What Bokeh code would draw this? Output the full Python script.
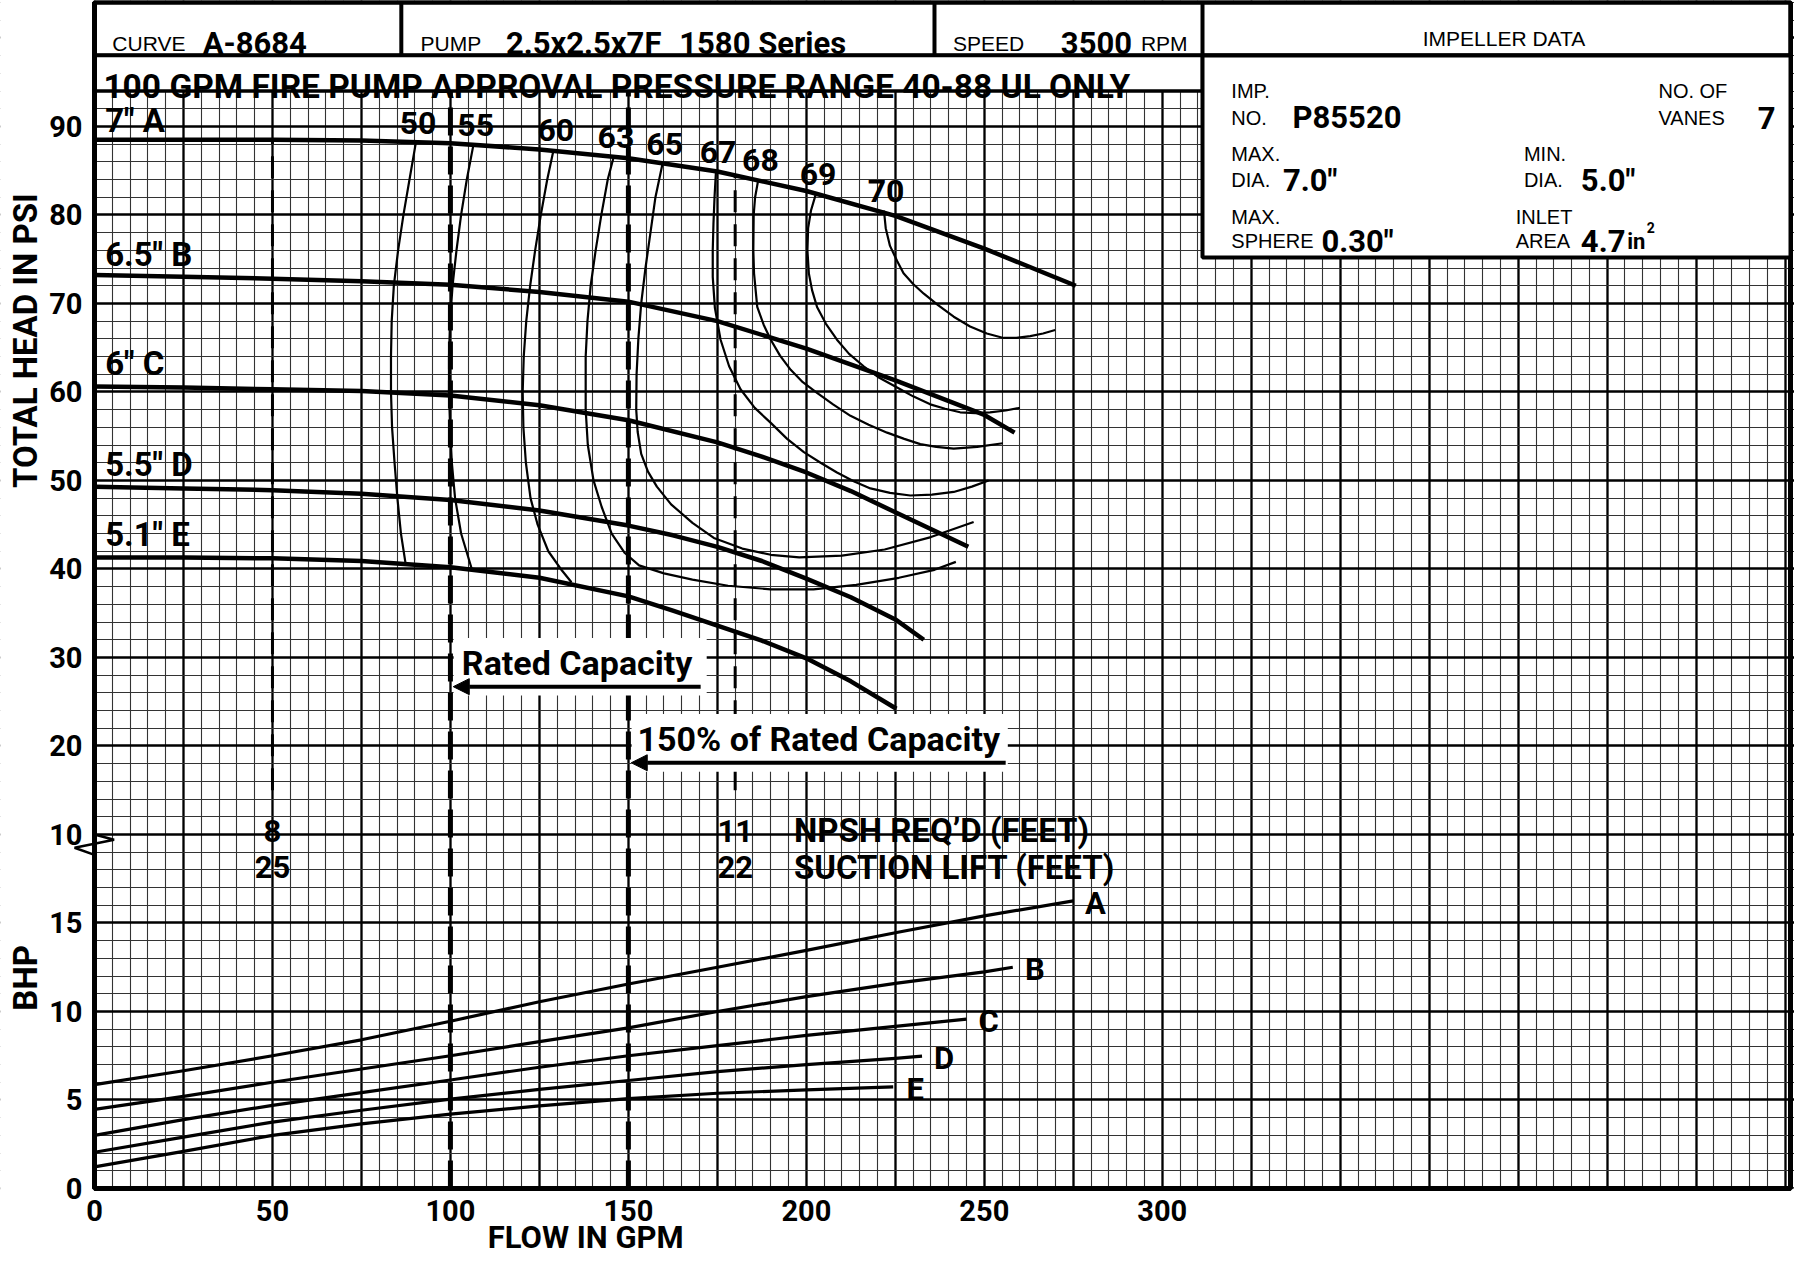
import numpy as np
from bokeh.plotting import figure
from bokeh.models import Range1d, FixedTicker, Arrow, NormalHead
from bokeh.core.properties import value
from bokeh.embed import file_html
from bokeh.resources import INLINE

BOLDF = "Roboto"
SANS = "Liberation Sans"

# ---------------- data ----------------
flow_ticks = [0, 50, 100, 150, 200, 250, 300]
head_ticks = [10, 20, 30, 40, 50, 60, 70, 80, 90]
bhp_ticks = [0, 5, 10, 15]

# head-capacity curves (GPM, PSI)
diam_labels = ['7" A', '6.5" B', '6" C', '5.5" D', '5.1" E']
flow_A = [0, 25, 50, 75, 100, 125, 150, 175, 200, 225, 250, 275.7]
head_A = [88.5, 88.5, 88.5, 88.4, 88.1, 87.4, 86.4, 84.9, 82.7, 79.9, 76.2, 72.0]
flow_B = [0, 25, 50, 75, 100, 125, 150, 175, 200, 225, 250, 258.5]
head_B = [73.2, 73.0, 72.8, 72.5, 72.1, 71.3, 70.2, 68.0, 64.9, 61.3, 57.4, 55.4]
flow_C = [0, 25, 50, 75, 100, 125, 150, 175, 187.5, 200, 212.5, 225, 245.5]
head_C = [60.6, 60.5, 60.3, 60.1, 59.6, 58.5, 56.8, 54.3, 52.7, 50.9, 48.8, 46.4, 42.5]
flow_D = [0, 25, 50, 75, 100, 125, 150, 162.5, 175, 187.5, 200, 212.5, 225, 233]
head_D = [49.3, 49.1, 48.9, 48.5, 47.8, 46.6, 44.9, 43.8, 42.5, 40.9, 38.9, 36.8, 34.3, 32.0]
flow_E = [0, 25, 50, 75, 100, 125, 150, 162.5, 175, 187.5, 200, 212.5, 225.3]
head_E = [41.3, 41.3, 41.2, 40.9, 40.2, 39.0, 36.9, 35.3, 33.6, 31.9, 29.9, 27.3, 24.2]

# efficiency contours (%)
eff_levels = [50, 55, 60, 63, 65, 67, 68, 69, 70]
eff50_flow = [90.3, 88.5, 86.8, 85.3, 84.1, 83.5, 83.3, 83.3, 83.6, 84.3, 85.1, 86.1, 87.4]
eff50_head = [88.2, 84, 80, 76, 72, 68, 64, 60, 56, 52, 48, 44, 40.6]
eff55_flow = [106.5, 104.6, 103.0, 101.7, 100.6, 99.9, 99.6, 99.6, 99.9, 100.4, 101.3, 103.0, 106.0]
eff55_head = [88.0, 84, 80, 76, 72, 68, 64, 60, 56, 52, 48, 44, 40.0]
eff60_flow = [129.0, 127.2, 125.4, 123.8, 122.4, 121.3, 120.6, 120.3, 120.5, 121.2, 122.5, 124.5, 127.5, 131.0, 134.0]
eff60_head = [87.4, 84, 80, 76, 72, 68, 64, 60, 56, 52, 48, 45, 42, 40, 38.5]
eff63_flow = [145.9, 144.2, 142.4, 140.8, 139.4, 138.5, 138.0, 138.0, 138.6, 140.2, 142.5, 145.3, 149, 153, 160,
              168, 178, 190, 202, 214, 226, 236, 242]
eff63_head = [86.6, 84, 80, 76, 72, 68, 64, 58, 54, 50, 47, 44, 41.8, 40.4, 39.5,
              38.8, 38.1, 37.7, 37.7, 38.2, 39.0, 39.9, 40.8]
eff65_flow = [159.6, 157.6, 156.2, 154.8, 153.6, 152.8, 152.3, 152.2, 152.6, 153.6, 155.5, 158, 162, 168, 174,
              182, 190, 198, 210, 222, 235, 247]
eff65_head = [85.8, 82, 78, 74, 70, 66, 62, 58, 55.5, 53, 51, 49.3, 47.3, 45.2, 43.5,
              42.3, 41.6, 41.3, 41.5, 42.2, 43.6, 45.3]
eff67_flow = [174.6, 174.2, 173.9, 173.7, 173.7, 174.3, 175.9, 178.3, 181.5, 185.5, 190, 194.6, 199.3, 204,
              208.6, 213.3, 218, 223.5, 229.2, 235.3, 241.4, 246.5, 251.2]
eff67_head = [84.9, 82, 79, 76, 73, 69.5, 65.9, 62.9, 60.3, 58.2, 56.5, 54.7, 53.2, 52,
              50.9, 49.9, 49.1, 48.6, 48.3, 48.4, 48.7, 49.3, 50.0]
eff68_flow = [186.5, 185.6, 185.2, 185.1, 185.3, 186.2, 188, 190, 192.6, 195.6, 199, 203, 207.5, 212.4, 217.5,
              222.7, 227.5, 232, 236.5, 241.4, 248, 255.2]
eff68_head = [84, 82, 80, 76, 73.4, 69.6, 67.6, 65.9, 64.1, 62.5, 61.1, 59.9, 58.6, 57.3, 56.3,
              55.4, 54.7, 54.1, 53.8, 53.6, 53.8, 54.2]
eff69_flow = [202.7, 201.3, 200.5, 200.3, 200.7, 201.6, 203, 205.5, 208.6, 212, 216.1, 220.5, 225.5, 230, 234.8,
              239, 243.2, 247.5, 251.6, 256, 260]
eff69_head = [82.4, 80.5, 78.5, 76, 73.4, 71.5, 69.6, 67.7, 65.9, 64.3, 62.9, 61.6, 60.5, 59.5, 58.6,
              58.1, 57.7, 57.6, 57.7, 57.9, 58.2]
eff70_flow = [221.8, 222.3, 223.5, 225.5, 227.3, 230, 233, 237, 241.4, 246, 250.7, 255.4, 259, 262.9, 266.5, 269.9]
eff70_head = [80.5, 78.5, 76.5, 74.8, 73.4, 72.2, 71.1, 69.8, 68.5, 67.4, 66.6, 66.1, 66.1, 66.3, 66.6, 67.0]

# brake horsepower curves
bhp_names = ["A", "B", "C", "D", "E"]
bhp_flow_A = [0, 25, 50, 75, 100, 125, 150, 175, 200, 225, 250, 275]
bhp_A = [5.87, 6.65, 7.5, 8.4, 9.45, 10.55, 11.55, 12.5, 13.45, 14.45, 15.4, 16.25]
bhp_flow_B = [0, 25, 50, 75, 100, 125, 150, 175, 200, 225, 250, 258]
bhp_B = [4.47, 5.2, 6.0, 6.75, 7.5, 8.3, 9.07, 10.0, 10.84, 11.59, 12.24, 12.5]
bhp_flow_C = [0, 25, 50, 75, 100, 125, 150, 175, 200, 225, 245]
bhp_C = [3.0, 3.89, 4.7, 5.42, 6.13, 6.85, 7.5, 8.07, 8.65, 9.16, 9.57]
bhp_flow_D = [0, 25, 50, 75, 100, 125, 150, 175, 200, 225, 232.5]
bhp_D = [2.05, 2.9, 3.75, 4.42, 5.05, 5.6, 6.1, 6.6, 7.0, 7.35, 7.48]
bhp_flow_E = [0, 25, 50, 75, 100, 125, 150, 175, 200, 224.4]
bhp_E = [1.22, 2.1, 3.0, 3.65, 4.2, 4.67, 5.08, 5.38, 5.57, 5.74]

# NPSH data
npsh_flow = [50, 180]
npsh_req = [8, 11]
suction_lift = [25, 22]

rated_flow = 100
overload_flow = 150

# ---------------- figure ----------------
W, H = 1794, 1258
X_MAX = 476.5
Y_MIN, Y_MAX = -30, 104          # psi axis; BHP 0 sits at -30, 2 psi per BHP
LEFT_PX, RIGHT_PX, TOP_PX, BOTTOM_PX = 94, 4, 2, 70
sx = (W - LEFT_PX - RIGHT_PX) / X_MAX
sy = (H - TOP_PX - BOTTOM_PX) / (Y_MAX - Y_MIN)
XR = (-LEFT_PX / sx, X_MAX + RIGHT_PX / sx)
YR = (Y_MIN - BOTTOM_PX / sy, Y_MAX + TOP_PX / sy)

p = figure(width=W, height=H, x_range=Range1d(*XR), y_range=Range1d(*YR),
           output_backend="svg", toolbar_location=None,
           min_border_left=0, min_border_right=0, min_border_top=0, min_border_bottom=0)
p.extra_y_ranges = {"bhp": Range1d((YR[0] - Y_MIN) / 2.0, (YR[1] - Y_MIN) / 2.0)}
p.background_fill_color = "white"
p.border_fill_color = "white"
p.outline_line_color = None

xg = p.xgrid[0]
yg = p.ygrid[0]
xg.ticker = FixedTicker(ticks=list(range(0, 477, 25)), minor_ticks=list(range(0, 477, 5)))
yg.ticker = FixedTicker(ticks=list(range(-30, 105, 10)), minor_ticks=list(range(-30, 105, 2)))
for g in (xg, yg):
    g.grid_line_color = "black"
    g.grid_line_width = 2.3
    g.grid_line_alpha = 1
    g.minor_grid_line_color = "#333333"
    g.minor_grid_line_width = 1.1

xa = p.xaxis[0]
xa.ticker = FixedTicker(ticks=flow_ticks)
xa.fixed_location = Y_MIN
xa.bounds = (0, X_MAX)
ya = p.yaxis[0]
bhp_pos = [Y_MIN + 2 * b for b in bhp_ticks]
ya.ticker = FixedTicker(ticks=bhp_pos + head_ticks)
ya.major_label_overrides = {pos: str(b) for pos, b in zip(bhp_pos, bhp_ticks)}
ya.fixed_location = 0
ya.bounds = (Y_MIN, Y_MAX)
for ax in (xa, ya):
    ax.major_tick_line_color = None
    ax.minor_tick_line_color = None
    ax.axis_line_width = 5
    ax.major_label_text_font = BOLDF
    ax.major_label_text_font_style = "bold"
    ax.major_label_text_font_size = "29px"
    ax.major_label_text_color = "black"
xa.major_label_standoff = 5
ya.major_label_standoff = 6
ya.major_label_text_baseline = "bottom"


def txt(x, y, s, size, font=BOLDF, bold=True, align="left", baseline="middle", yr="default", angle=0.0):
    p.text(x=[x], y=[y], text=[s], text_font=value(font), text_font_style="bold" if bold else "normal",
           text_font_size=size, text_align=align, text_baseline=baseline, text_color="black",
           y_range_name=yr, angle=angle)


# white margins hide the grid outside the chart paper
p.quad(left=[XR[0] - 5, XR[0] - 5], right=[0, XR[1] + 5], bottom=[YR[0] - 5, YR[0] - 5], top=[YR[1] + 5, Y_MIN],
       fill_color="white", line_color=None)

# ---- reference dashed lines ----
p.segment(x0=[rated_flow, overload_flow], y0=[Y_MIN] * 2, x1=[rated_flow, overload_flow], y1=[Y_MAX] * 2,
          line_color="black", line_width=5, line_dash="28 11")
npsh_top = [float(np.interp(f, flow_A, head_A)) for f in npsh_flow]
p.segment(x0=npsh_flow, y0=[15.0] * len(npsh_flow), x1=npsh_flow, y1=npsh_top,
          line_color="black", line_width=3, line_dash="22 12")

# ---- head curves ----
for fx, hy in [(flow_A, head_A), (flow_B, head_B), (flow_C, head_C), (flow_D, head_D), (flow_E, head_E)]:
    p.line(fx, hy, line_color="black", line_width=4.5, line_join="round")

# ---- efficiency contours ----
eff_curves = [(eff50_flow, eff50_head), (eff55_flow, eff55_head), (eff60_flow, eff60_head),
              (eff63_flow, eff63_head), (eff65_flow, eff65_head), (eff67_flow, eff67_head),
              (eff68_flow, eff68_head), (eff69_flow, eff69_head), (eff70_flow, eff70_head)]
for fx, hy in eff_curves:
    p.line(fx, hy, line_color="black", line_width=2.2, line_join="round")
for lvl, (fx, hy) in zip(eff_levels, eff_curves):
    txt(fx[0] + 0.6, hy[0] + 2.2, str(lvl), "32px", align="center")

# ---- BHP curves ----
bhp_curves = [(bhp_flow_A, bhp_A), (bhp_flow_B, bhp_B), (bhp_flow_C, bhp_C), (bhp_flow_D, bhp_D), (bhp_flow_E, bhp_E)]
for name, (fx, by) in zip(bhp_names, bhp_curves):
    p.line(fx, by, line_color="black", line_width=3.2, line_join="round", y_range_name="bhp")
    txt(fx[-1] + 6.2, by[-1] - 0.15, name, "31px", align="center", yr="bhp")

# ---- diameter labels ----
diam_label_y = [90.7, 75.5, 63.2, 51.8, 43.9]
for s, yy in zip(diam_labels, diam_label_y):
    txt(3.0, yy, s, "33px")

# ---- NPSH text ----
for f, n, s in zip(npsh_flow, npsh_req, suction_lift):
    txt(f, 10.4, str(n), "31px", align="center")
    txt(f, 6.3, str(s), "31px", align="center")
txt(196.5, 10.4, "NPSH REQ’D (FEET)", "33px")
txt(196.5, 6.3, "SUCTION LIFT (FEET)", "33px")

# ---- rated capacity boxes ----
p.quad(left=[rated_flow + 0.9, overload_flow + 0.9], right=[172, 256.6], bottom=[25.7, 17.1], top=[32.2, 23.6],
       fill_color="white", line_color=None)
txt(135.6, 29.4, "Rated Capacity", "34px", align="center")
txt(203.5, 20.8, "150% of Rated Capacity", "34px", align="center")
p.add_layout(Arrow(end=NormalHead(size=16, fill_color="black", line_color="black", line_width=1),
                   x_start=170.3, y_start=26.7, x_end=rated_flow + 0.8, y_end=26.7,
                   line_color="black", line_width=4))
p.add_layout(Arrow(end=NormalHead(size=16, fill_color="black", line_color="black", line_width=1),
                   x_start=256, y_start=18.1, x_end=overload_flow + 0.8, y_end=18.1,
                   line_color="black", line_width=4))

# ---- axis break mark ----
p.line(x=[0, 5.5, -5.6, 0], y=[10, 9.4, 8.5, 7.7], line_color="black", line_width=2.5)

# ---- chart border ----
p.quad(left=[0], right=[X_MAX], bottom=[Y_MIN], top=[Y_MAX], fill_color=None, line_color="black", line_width=5)

# ---- header ----
p.quad(left=[0], right=[X_MAX], bottom=[98], top=[Y_MAX], fill_color="white", line_color="black", line_width=4.5)
p.quad(left=[0], right=[311.3], bottom=[94], top=[98], fill_color="white", line_color="black", line_width=3.5)
p.quad(left=[311.3], right=[X_MAX], bottom=[75.2], top=[98], fill_color="white", line_color="black", line_width=4)
p.segment(x0=[86.2, 236, 311.3], y0=[98] * 3, x1=[86.2, 236, 311.3], y1=[Y_MAX] * 3,
          line_color="black", line_width=4)

txt(5, 99.4, "CURVE", "21px", font=SANS, bold=False, baseline="alphabetic")
txt(30.4, 99.4, "A-8684", "31px", baseline="alphabetic")
txt(91.6, 99.4, "PUMP", "21px", font=SANS, bold=False, baseline="alphabetic")
txt(115.6, 99.4, "2.5x2.5x7F", "31px", baseline="alphabetic")
txt(164.3, 99.4, "1580 Series", "31px", baseline="alphabetic")
txt(241.2, 99.4, "SPEED", "21px", font=SANS, bold=False, baseline="alphabetic")
txt(271.5, 99.4, "3500", "31px", baseline="alphabetic")
txt(294, 99.4, "RPM", "21px", font=SANS, bold=False, baseline="alphabetic")
txt(396, 99.9, "IMPELLER DATA", "21px", font=SANS, bold=False, align="center", baseline="alphabetic")
txt(2.5, 94.55, "100 GPM FIRE PUMP APPROVAL PRESSURE RANGE 40-88 UL ONLY", "33.5px", baseline="alphabetic")

# impeller data box
txt(319.4, 94.0, "IMP.", "20px", font=SANS, bold=False, baseline="alphabetic")
txt(319.4, 91.0, "NO.", "20px", font=SANS, bold=False, baseline="alphabetic")
txt(336.6, 91.0, "P85520", "31px", baseline="alphabetic")
txt(439.4, 94.0, "NO. OF", "20px", font=SANS, bold=False, baseline="alphabetic")
txt(439.4, 91.0, "VANES", "20px", font=SANS, bold=False, baseline="alphabetic")
txt(467.3, 91.0, "7", "31px", baseline="alphabetic")
txt(319.4, 86.9, "MAX.", "20px", font=SANS, bold=False, baseline="alphabetic")
txt(319.4, 83.9, "DIA.", "20px", font=SANS, bold=False, baseline="alphabetic")
txt(333.9, 83.9, '7.0"', "31px", baseline="alphabetic")
txt(401.6, 86.9, "MIN.", "20px", font=SANS, bold=False, baseline="alphabetic")
txt(401.6, 83.9, "DIA.", "20px", font=SANS, bold=False, baseline="alphabetic")
txt(417.6, 83.9, '5.0"', "31px", baseline="alphabetic")
txt(319.4, 79.8, "MAX.", "20px", font=SANS, bold=False, baseline="alphabetic")
txt(319.4, 77.0, "SPHERE", "20px", font=SANS, bold=False, baseline="alphabetic")
txt(344.7, 77.0, '0.30"', "31px", baseline="alphabetic")
txt(399.3, 79.8, "INLET", "20px", font=SANS, bold=False, baseline="alphabetic")
txt(399.3, 77.0, "AREA", "20px", font=SANS, bold=False, baseline="alphabetic")
txt(417.6, 77.0, "4.7", "31px", baseline="alphabetic")
txt(430.6, 77.0, "in", "22px", baseline="alphabetic")
txt(436.1, 78.6, "2", "14px", baseline="alphabetic")

# ---- axis titles ----
txt(-19.3, 65.8, "TOTAL HEAD IN PSI", "33px", align="center", angle=np.pi / 2)
txt(-19.3, -6.2, "BHP", "33px", align="center", angle=np.pi / 2)
txt(138, YR[1] - (H - 21) / sy, "FLOW IN GPM", "31px", align="center")

open("out.html", "w").write(file_html(p, INLINE))
